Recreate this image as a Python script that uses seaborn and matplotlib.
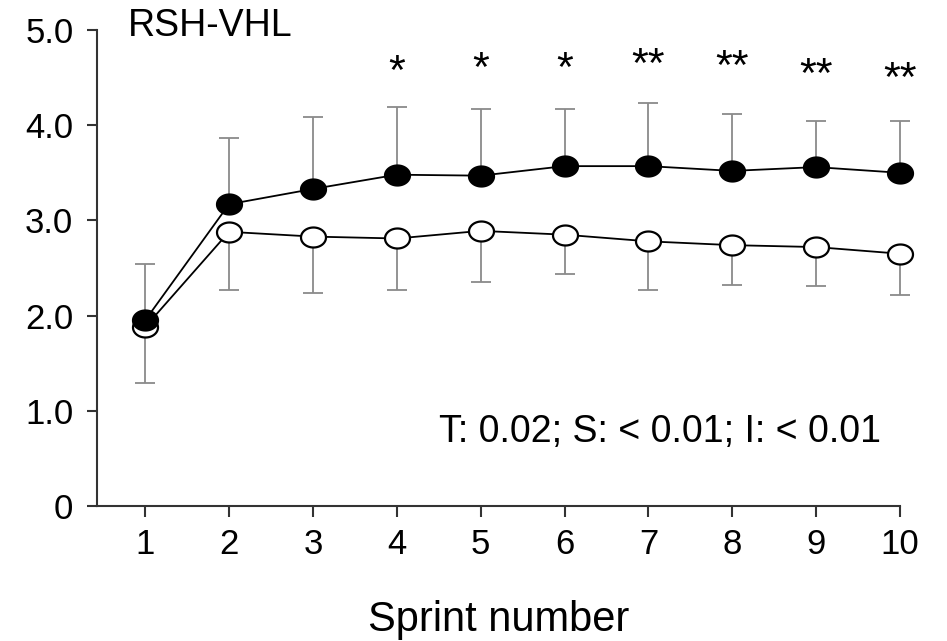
import numpy as np
import pandas as pd
import matplotlib
matplotlib.use("Agg")
import matplotlib.pyplot as plt
from matplotlib.path import Path
import seaborn as sns

# ---- data ----
sprints = [1, 2, 3, 4, 5, 6, 7, 8, 9, 10]
filled_mean = [1.95, 3.17, 3.33, 3.48, 3.47, 3.57, 3.57, 3.52, 3.56, 3.50]
filled_upper = [2.54, 3.87, 4.09, 4.19, 4.17, 4.17, 4.23, 4.12, 4.04, 4.04]
open_mean = [1.88, 2.88, 2.83, 2.81, 2.89, 2.85, 2.78, 2.74, 2.72, 2.65]
open_lower = [1.29, 2.27, 2.24, 2.27, 2.35, 2.44, 2.27, 2.32, 2.31, 2.22]
star_sprints = [4, 5, 6, 7, 8, 9, 10]
star_labels = ["*", "*", "*", "**", "**", "**", "**"]
star_y = [4.55, 4.58, 4.58, 4.62, 4.60, 4.52, 4.48]
y_ticks = [0, 1, 2, 3, 4, 5]
y_tick_labels = ["0", "1.0", "2.0", "3.0", "4.0", "5.0"]
panel_title = "RSH-VHL"
stats_text = "T: 0.02; S: < 0.01; I: < 0.01"
x_label = "Sprint number"

sns.set_theme(style="ticks")
plt.rcParams["font.family"] = ["Liberation Sans", "DejaVu Sans"]
plt.rcParams["text.color"] = "black"
plt.rcParams["axes.labelcolor"] = "black"
plt.rcParams["xtick.labelcolor"] = "black"
plt.rcParams["ytick.labelcolor"] = "black"

fig = plt.figure(figsize=(9.47, 6.41), dpi=100)
ax = fig.add_axes([97 / 947, 1 - 506 / 641, (900 - 97) / 947, (506 - 30) / 641])

# elliptical marker (reference is horizontally stretched)
t = np.linspace(0, 2 * np.pi, 60)
ell = Path(np.column_stack([np.cos(t), 0.8 * np.sin(t)]), closed=True)

df = pd.DataFrame({
    "sprint": sprints * 2,
    "value": filled_mean + open_mean,
    "group": ["filled"] * len(sprints) + ["open"] * len(sprints),
})

err_col = "#8a8a8a"
ax.errorbar(sprints, filled_mean,
            yerr=[np.zeros(len(sprints)), np.array(filled_upper) - np.array(filled_mean)],
            fmt="none", ecolor=err_col, elinewidth=1.3, capsize=7, capthick=1.3,
            zorder=1, clip_on=False)
ax.errorbar(sprints, open_mean,
            yerr=[np.array(open_mean) - np.array(open_lower), np.zeros(len(sprints))],
            fmt="none", ecolor=err_col, elinewidth=1.3, capsize=7, capthick=1.3,
            zorder=1, clip_on=False)

sns.lineplot(data=df[df.group == "open"], x="sprint", y="value", ax=ax,
             color="black", linewidth=1.3, marker=ell, markersize=18,
             markerfacecolor="white", markeredgecolor="black", markeredgewidth=1.6,
             clip_on=False, zorder=3, legend=False)
sns.lineplot(data=df[df.group == "filled"], x="sprint", y="value", ax=ax,
             color="black", linewidth=1.3, marker=ell, markersize=18,
             markerfacecolor="black", markeredgecolor="black", markeredgewidth=1.6,
             clip_on=False, zorder=4, legend=False)

for xs, lab, ys in zip(star_sprints, star_labels, star_y):
    ax.text(xs, ys, lab, ha="center", va="center", fontsize=31, color="black")

ax.text(0.80, 4.94, panel_title, ha="left", va="baseline", fontsize=27, color="black")
ax.text(7.14, 0.67, stats_text, ha="center", va="baseline", fontsize=27, color="black")

ax.set_xlim(0.426, 10)
ax.set_ylim(0, 5)
ax.set_xticks(sprints)
ax.set_xticklabels([str(s) for s in sprints])
ax.set_yticks(y_ticks)
ax.set_yticklabels(y_tick_labels)
ax.tick_params(axis="y", length=7, width=1.5, labelsize=25, pad=10, color="#333333",
               labelcolor="black")
ax.tick_params(axis="x", length=8, width=1.5, labelsize=25, pad=8, color="#333333",
               labelcolor="black")
for s in ["top", "right"]:
    ax.spines[s].set_visible(False)
for s in ["left", "bottom"]:
    ax.spines[s].set_linewidth(1.5)
    ax.spines[s].set_color("#333333")
ax.set_xlabel(x_label, fontsize=30, labelpad=28, color="black")
ax.set_ylabel("")
ax.set_facecolor("white")

fig.savefig("out.png", dpi=100, facecolor="white")
